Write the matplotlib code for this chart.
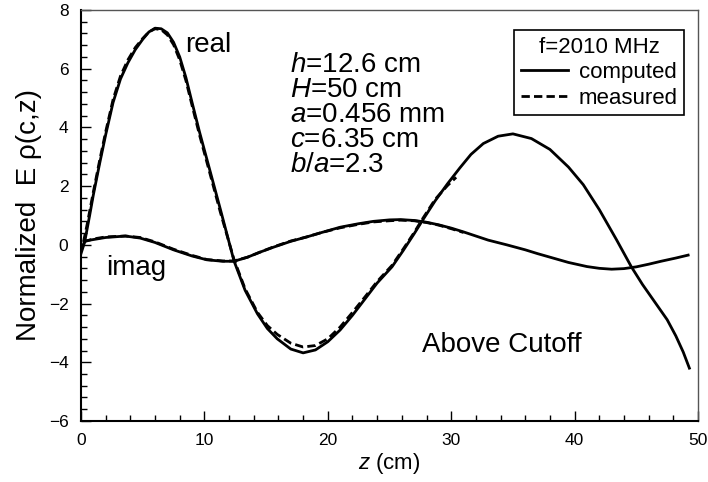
import matplotlib.pyplot as plt
from matplotlib.ticker import MultipleLocator

plt.rcParams['font.family'] = ['Liberation Sans', 'DejaVu Sans']
plt.rcParams['mathtext.fontset'] = 'custom'
plt.rcParams['mathtext.it'] = 'Liberation Sans:italic'
plt.rcParams['mathtext.rm'] = 'Liberation Sans'

# computed, real part
zRealComp = [0, 0.3, 0.7, 1.0, 1.5, 2.0, 2.6, 3.2, 3.8, 4.4, 5.0, 5.5, 6.0, 6.5, 7.0, 7.5,
             8.0, 8.5, 9.0, 9.6, 10.5, 11.3, 12.4, 13.3, 14.3, 15.1, 15.9, 17.0, 18.0,
             19.0, 20.0, 21.0, 22.0, 23.0, 24.0, 25.2, 26.1, 27.0, 27.7, 28.7, 29.7,
             30.7, 31.6, 32.6, 33.8, 35.0, 36.5, 38.0, 39.5, 40.7, 42.0, 43.4, 44.6,
             45.5, 46.5, 47.5, 48.2, 48.8, 49.3]
realComp = [-0.3, 0.1, 1.0, 1.7, 2.75, 3.75, 4.85, 5.65, 6.2, 6.65, 7.0, 7.25, 7.38, 7.36,
            7.22, 6.9, 6.4, 5.7, 4.85, 3.85, 2.45, 1.2, -0.55, -1.55, -2.35, -2.85, -3.2,
            -3.55, -3.68, -3.58, -3.3, -2.9, -2.4, -1.85, -1.3, -0.75, -0.2, 0.38, 0.85,
            1.5, 2.08, 2.62, 3.08, 3.45, 3.7, 3.78, 3.62, 3.25, 2.65, 2.05, 1.2, 0.17,
            -0.75, -1.35, -1.95, -2.55, -3.1, -3.65, -4.2]

# computed, imaginary part
zImagComp = [0, 0.3, 1.0, 2.0, 3.6, 4.8, 6.0, 7.5, 9.0, 10.2, 11.5, 12.4, 13.5, 14.5,
             15.6, 17.0, 18.3, 19.5, 21.0, 22.5, 23.7, 25.0, 25.9, 27.0, 28.0, 29.0,
             30.0, 31.0, 32.0, 33.0, 34.5, 36.0, 37.0, 38.0, 39.5, 41.0, 42.0, 43.0,
             44.0, 45.0, 46.0, 47.0, 48.2, 49.2]
imagComp = [-0.2, 0.13, 0.18, 0.25, 0.3, 0.23, 0.08, -0.17, -0.38, -0.51, -0.56, -0.56,
            -0.42, -0.25, -0.08, 0.12, 0.27, 0.42, 0.6, 0.72, 0.8, 0.85, 0.86, 0.83,
            0.77, 0.68, 0.57, 0.44, 0.3, 0.16, 0.0, -0.17, -0.3, -0.42, -0.6, -0.74,
            -0.8, -0.83, -0.81, -0.75, -0.66, -0.56, -0.45, -0.35]

# measured, real part
zRealMeas = [0.2, 0.5, 1.0, 1.5, 2.0, 2.6, 3.2, 3.8, 4.4, 5.0, 5.5, 6.0, 6.5, 7.0, 7.5,
             8.0, 8.5, 9.0, 9.6, 10.5, 11.3, 12.4, 13.3, 14.3, 15.1, 15.9, 17.0, 18.0,
             19.0, 20.0, 21.0, 22.0, 23.0, 24.0, 25.2, 26.1, 27.0, 27.7, 28.7, 29.7, 30.4]
realMeas = [0.1, 0.7, 1.8, 2.85, 3.85, 4.95, 5.75, 6.3, 6.72, 7.03, 7.25, 7.36, 7.33,
            7.15, 6.82, 6.3, 5.6, 4.75, 3.75, 2.35, 1.1, -0.5, -1.5, -2.3, -2.75, -3.05,
            -3.35, -3.48, -3.43, -3.2, -2.8, -2.3, -1.78, -1.25, -0.7, -0.15, 0.42, 0.9,
            1.55, 2.02, 2.3]

# measured, imaginary part
zImagMeas = [0.2, 1.0, 2.0, 3.6, 4.8, 6.0, 7.5, 9.0, 10.2, 11.5, 12.4, 13.5, 14.5, 15.6,
             17.0, 18.3, 19.5, 21.0, 22.5, 23.7, 25.0, 25.9, 27.0, 28.0, 29.0, 30.0, 31.0]
imagMeas = [0.1, 0.2, 0.27, 0.3, 0.25, 0.1, -0.15, -0.36, -0.5, -0.55, -0.55, -0.42,
            -0.25, -0.07, 0.13, 0.27, 0.42, 0.58, 0.7, 0.78, 0.82, 0.84, 0.82, 0.76,
            0.67, 0.55, 0.42]

params = ['$h$=12.6 cm', '$H$=50 cm', '$a$=0.456 mm', '$c$=6.35 cm', '$b/a$=2.3']

fig = plt.figure(figsize=(7.08, 4.82), dpi=100)
ax = fig.add_axes([0.1144, 0.1266, 0.8715, 0.8527])

ax.plot(zRealComp, realComp, color='black', lw=2, label='computed')
ax.plot(zImagComp, imagComp, color='black', lw=2)
ax.plot(zRealMeas, realMeas, color='black', lw=2, dashes=(3, 1.5), label='measured')
ax.plot(zImagMeas, imagMeas, color='black', lw=2, dashes=(3, 1.5))

ax.set_xlim(0, 50)
ax.set_ylim(-6, 8)
ax.xaxis.set_major_locator(MultipleLocator(10))
ax.xaxis.set_minor_locator(MultipleLocator(2))
ax.yaxis.set_major_locator(MultipleLocator(2))
ax.yaxis.set_minor_locator(MultipleLocator(0.4))
ax.tick_params(which='both', direction='in', labelsize=12.5, pad=9, width=1)
ax.tick_params(which='major', length=7)
ax.tick_params(which='minor', length=4)

for s in ['left', 'bottom']:
    ax.spines[s].set_linewidth(1.5)
    ax.spines[s].set_color('black')
for s in ['top', 'right']:
    ax.spines[s].set_linewidth(1)
    ax.spines[s].set_color('#555555')

ax.set_xlabel('$z$ (cm)', fontsize=16, labelpad=2)
ax.set_ylabel('Normalized  E \u03c1(c,z)', fontsize=20, labelpad=5)

ax.text(8.43, 6.57, 'real', fontsize=20, va='baseline')
ax.text(2.03, -1.03, 'imag', fontsize=20, va='baseline')
ax.text(27.6, -3.65, 'Above Cutoff', fontsize=20, va='baseline')
for i, p in enumerate(params):
    ax.text(16.94, 5.89 - i * 0.8515, p, fontsize=20, va='baseline')

leg = ax.legend(title='f=2010 MHz', loc='upper right', fontsize=16, title_fontsize=16,
                frameon=True, fancybox=False, edgecolor='black', framealpha=1,
                handlelength=2.1, handletextpad=0.5, borderpad=0.3, labelspacing=0.2,
                borderaxespad=0.4, bbox_to_anchor=(0.9924, 0.973))
leg.get_frame().set_linewidth(1.2)

fig.savefig('out.png', dpi=100)
